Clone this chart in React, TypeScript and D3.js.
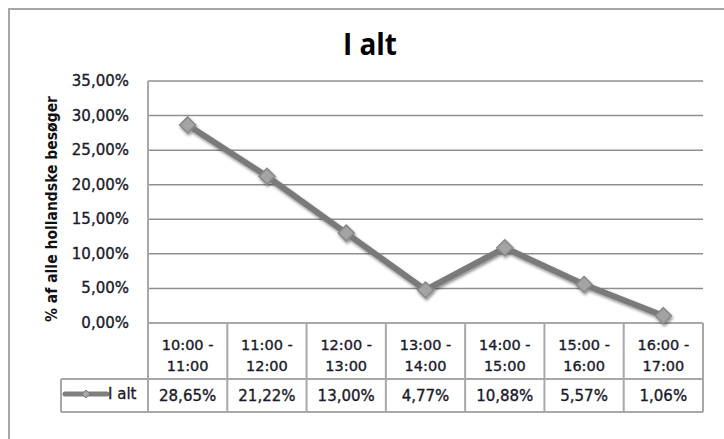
import React from "react";
import * as d3 from "d3";

const categories = ["10:00 - 11:00", "11:00 - 12:00", "12:00 - 13:00", "13:00 - 14:00", "14:00 - 15:00", "15:00 - 16:00", "16:00 - 17:00"];
const values = [0.2865, 0.2122, 0.13, 0.0477, 0.1088, 0.0557, 0.0106];
const yTicks = [0, 0.05, 0.1, 0.15, 0.2, 0.25, 0.3, 0.35];
const seriesName = "I alt";
const title = "I alt";
const yTitle = "% af alle hollandske besøger";

const W = 724;
const H = 439;
const plotL = 148;
const plotR = 703;
const plotT = 81;
const plotB = 323;
const row1B = 379;
const row2B = 412;
const legendL = 61;

const locale = d3.formatLocale({ decimal: ",", thousands: ".", grouping: [3], currency: ["", " kr"] });
const pct = locale.format(".2%");

export default function App() {
  const x = d3.scaleBand<string>().domain(categories).range([plotL, plotR]).padding(0);
  const y = d3.scaleLinear().domain([0, 0.35]).range([plotB, plotT]);
  const cx = (c: string) => (x(c) as number) + x.bandwidth() / 2;
  const line = d3
    .line<number>()
    .x((_, i) => cx(categories[i]))
    .y((d) => y(d));
  const diamond = (s: number) => `M0,${-s}L${s},0L0,${s}L${-s},0Z`;
  const gridColor = "#8f8f8f";
  const tableColor = "#a8a8a8";
  const textColor = "#1a1a2a";
  const font = "DejaVu Sans, sans-serif";
  const bounds = categories.map((c) => x(c) as number).concat([plotR]);
  const heavy = { stroke: textColor, strokeWidth: 0.35 };

  return (
    <svg width={W} height={H} style={{ position: "absolute", left: 0, top: 0, background: "#fff" }}>
      <defs>
        <filter id="sh" x="-50%" y="-50%" width="200%" height="200%">
          <feGaussianBlur in="SourceAlpha" stdDeviation="1.5" />
          <feOffset dx="1" dy="2" result="b" />
          <feComponentTransfer><feFuncA type="linear" slope="0.45" /></feComponentTransfer>
          <feMerge>
            <feMergeNode />
            <feMergeNode in="SourceGraphic" />
          </feMerge>
        </filter>
      </defs>
      <rect x={9} y={9} width={W + 10} height={H + 10} fill="#fff" stroke="#a6a6a6" strokeWidth={2} />
      <text x={370} y={55} textAnchor="middle" fontFamily="Open Sans, sans-serif" fontWeight="bold" fontSize={30} fill="#000" textLength={54} lengthAdjust="spacingAndGlyphs">
        {title}
      </text>
      {/* gridlines */}
      {yTicks.map((t) => (
        <line key={t} x1={plotL} x2={plotR} y1={y(t)} y2={y(t)} stroke={gridColor} strokeWidth={1.5} />
      ))}
      {yTicks.map((t) => (
        <text key={"l" + t} x={129} y={y(t) + 5} textAnchor="end" fontFamily={font} fontSize={15} fill={textColor} {...heavy}>
          {pct(t)}
        </text>
      ))}
      <text
        transform={`translate(57,${209}) rotate(-90)`}
        textAnchor="middle"
        fontFamily={font}
        fontWeight="bold"
        fontSize={15}
        textLength={226}
        lengthAdjust="spacingAndGlyphs"
        fill="#111"
      >
        {yTitle}
      </text>
      {/* table */}
      <line x1={plotL} x2={plotL} y1={plotT} y2={row2B} stroke={tableColor} strokeWidth={2} />
      <line x1={plotL} x2={plotR} y1={plotB} y2={plotB} stroke={tableColor} strokeWidth={2} />
      <line x1={legendL} x2={plotR} y1={row1B} y2={row1B} stroke={tableColor} strokeWidth={2} />
      <line x1={legendL} x2={plotR} y1={row2B} y2={row2B} stroke={tableColor} strokeWidth={2} />
      <line x1={legendL} x2={legendL} y1={row1B} y2={row2B} stroke={tableColor} strokeWidth={2} />
      {bounds.slice(1).map((b, i) => (
        <line key={"b" + i} x1={b} x2={b} y1={plotB} y2={row2B} stroke={tableColor} strokeWidth={2} />
      ))}
      {categories.map((c) => {
        const [a, b] = c.split(" - ");
        return (
          <g key={c}>
            <text x={cx(c)} y={350} textAnchor="middle" fontFamily={font} fontSize={14.5} fill={textColor} {...heavy}>
              {a + " -"}
            </text>
            <text x={cx(c)} y={371} textAnchor="middle" fontFamily={font} fontSize={14.5} fill={textColor} {...heavy}>
              {b}
            </text>
          </g>
        );
      })}
      {values.map((v, i) => (
        <text key={"v" + i} x={cx(categories[i])} y={401} textAnchor="middle" fontFamily={font} fontSize={15} fill={textColor} {...heavy}>
          {pct(v)}
        </text>
      ))}
      {/* legend key */}
      <line x1={65} x2={107} y1={394} y2={394} stroke="#7f7f7f" strokeWidth={5} strokeLinecap="round" />
      <path d={diamond(4)} transform="translate(86,394)" fill="#a5a5a5" stroke="#7a7a7a" strokeWidth={1} />
      <text x={108} y={399} fontFamily={font} fontSize={15} fill={textColor} {...heavy}>
        {seriesName}
      </text>
      {/* series */}
      <g filter="url(#sh)">
        <path d={line(values) as string} fill="none" stroke="#7a7a7a" strokeWidth={6} strokeLinejoin="round" />
        {values.map((v, i) => (
          <path key={"m" + i} d={diamond(8)} transform={`translate(${cx(categories[i])},${y(v)})`} fill="#a3a3a3" stroke="#888" strokeWidth={1.5} />
        ))}
      </g>
    </svg>
  );
}
